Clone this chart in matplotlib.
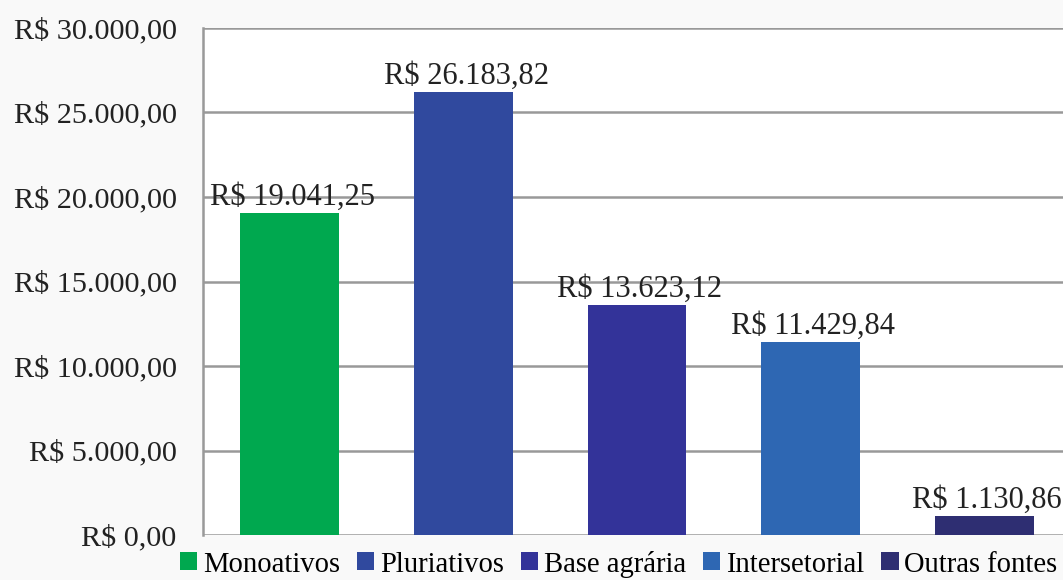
import matplotlib.pyplot as plt
from matplotlib.patches import Patch

# Data
categories = ["Monoativos", "Pluriativos", "Base agrária", "Intersetorial", "Outras fontes"]
values = [19041.25, 26183.82, 13623.12, 11429.84, 1130.86]
value_labels = ["R$ 19.041,25", "R$ 26.183,82", "R$ 13.623,12", "R$ 11.429,84", "R$ 1.130,86"]
bar_colors = ["#00a84f", "#30499e", "#333399", "#2e67b3", "#2e2e72"]
y_ticks = [0, 5000, 10000, 15000, 20000, 25000, 30000]
y_tick_labels = ["R$ 0,00", "R$ 5.000,00", "R$ 10.000,00", "R$ 15.000,00",
                 "R$ 20.000,00", "R$ 25.000,00", "R$ 30.000,00"]

plt.rcParams["font.family"] = ["Liberation Serif", "DejaVu Serif"]

fig = plt.figure(figsize=(10.63, 5.8), dpi=100, facecolor="#f9f9f9")
ax = fig.add_axes([203 / 1063, 45 / 580, 868 / 1063, 507 / 580])
ax.set_facecolor("white")

x = list(range(len(categories)))
ax.bar(x, values, width=0.57, color=bar_colors, zorder=3)

for xi, v, lab in zip(x, values, value_labels):
    ax.annotate(lab, (xi, v), xytext=(2, 1), textcoords="offset points",
                ha="center", va="bottom", fontsize=22, color="#222222", zorder=4)

ax.set_xlim(-0.5, 4.5)
ax.set_ylim(0, 30000)
ax.set_yticks(y_ticks)
ax.set_yticklabels(y_tick_labels, fontsize=21.8, color="#222222")
ax.set_xticks([])
ax.tick_params(axis="y", length=0, pad=19)
ax.grid(axis="y", color="#999999", linewidth=1.8, zorder=0)
for side in ["top", "right", "bottom"]:
    ax.spines[side].set_visible(False)
ax.spines["left"].set_color("#999999")
ax.spines["left"].set_linewidth(1.8)

handles = [Patch(facecolor=c, edgecolor="none") for c in bar_colors]
fig.legend(handles, categories, loc="center", bbox_to_anchor=(0.582, 1 - 564 / 580),
           ncol=5, frameon=False, fontsize=20.6, handlelength=0.6, handleheight=0.6,
           handletextpad=0.2, columnspacing=0.6, borderpad=0)

fig.savefig("out.png", dpi=100, facecolor=fig.get_facecolor())
